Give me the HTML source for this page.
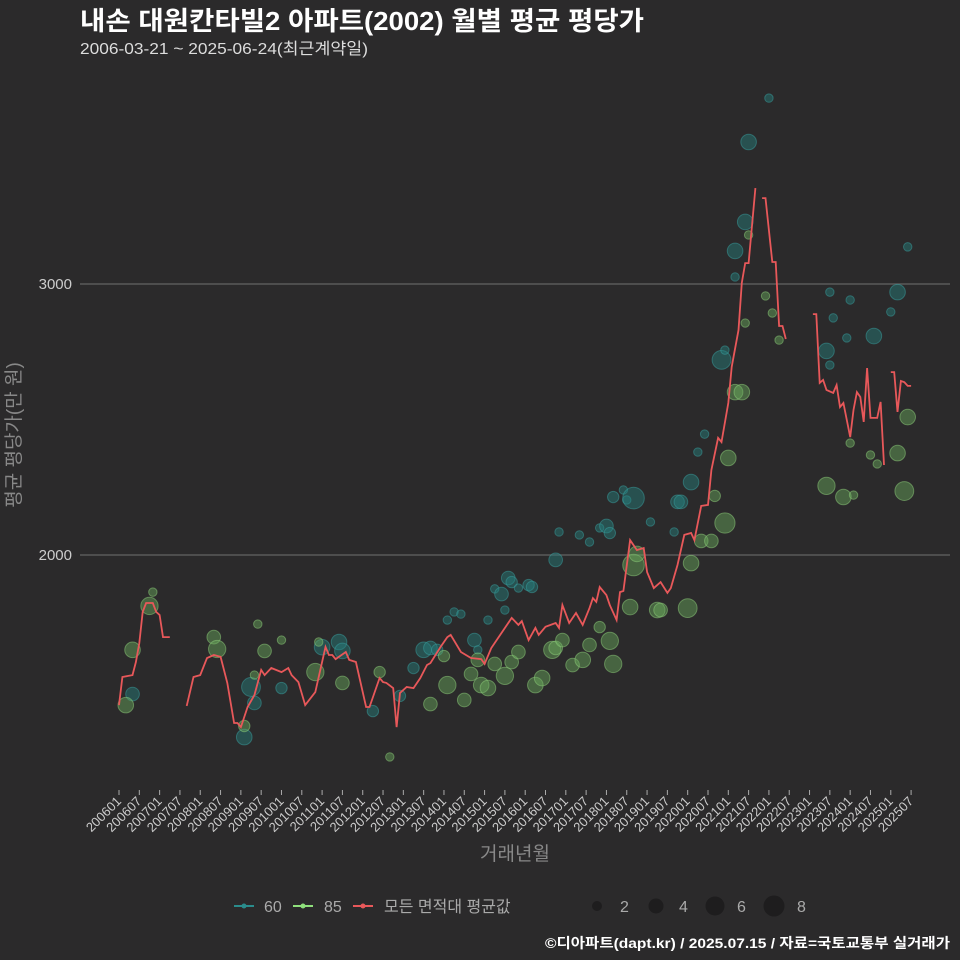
<!DOCTYPE html>
<html><head><meta charset="utf-8"><style>
body{margin:0;background:#2b2a2b;}
svg{display:block;font-family:"Liberation Sans","Noto Sans CJK KR",sans-serif;}
</style></head><body>
<svg id="chart" width="960" height="960" viewBox="0 0 960 960" xmlns="http://www.w3.org/2000/svg">
<rect width="960" height="960" fill="#2b2a2b"/>
<text x="80" y="30" fill="#ffffff" font-size="26" font-weight="bold" textLength="564" lengthAdjust="spacingAndGlyphs">내손 대원칸타빌2 아파트(2002) 월별 평균 평당가</text>
<text x="80" y="54" fill="#dddddd" font-size="16" textLength="288" lengthAdjust="spacingAndGlyphs">2006-03-21 ~ 2025-06-24(최근계약일)</text>
<g id="grid"></g>
<g id="yticks"></g>
<g id="xticks"></g>
<g id="bubbles60"></g>
<g id="bubbles85"></g>
<path id="avgline" fill="none" stroke="#e8585a" stroke-width="1.8"/>
<text x="20" y="435" fill="#888888" font-size="19" text-anchor="middle" transform="rotate(-90 20 435)">평균 평당가(만 원)</text>
<text x="515" y="860" fill="#888888" font-size="19" text-anchor="middle">거래년월</text>
<g font-size="16" fill="#aaaaaa">
<g><line x1="234" y1="906" x2="254" y2="906" stroke="#2a8c8c" stroke-width="2"/><circle cx="244" cy="906" r="2.5" fill="#2a8c8c"/><text x="264" y="912">60</text></g>
<g><line x1="293" y1="906" x2="313" y2="906" stroke="#8fe07c" stroke-width="2"/><circle cx="303" cy="906" r="2.5" fill="#8fe07c"/><text x="324" y="912">85</text></g>
<g><line x1="353" y1="906" x2="373" y2="906" stroke="#e8585a" stroke-width="2"/><circle cx="363" cy="906" r="2.5" fill="#e8585a"/><text x="384" y="912">모든 면적대 평균값</text></g>
<g><circle cx="597" cy="906" r="5" fill="#1e1d1e"/><text x="620" y="912">2</text></g>
<g><circle cx="656" cy="906" r="7.5" fill="#1e1d1e"/><text x="679" y="912">4</text></g>
<g><circle cx="715" cy="906" r="9.5" fill="#1e1d1e"/><text x="737" y="912">6</text></g>
<g><circle cx="774" cy="906" r="10.5" fill="#1e1d1e"/><text x="797" y="912">8</text></g>
</g>
<text x="950" y="948" fill="#ffffff" font-size="14" font-weight="bold" text-anchor="end" textLength="405" lengthAdjust="spacingAndGlyphs">©디아파트(dapt.kr) / 2025.07.15 / 자료=국토교통부 실거래가</text>
</svg>
<script>
// months since 2006-01; null = gap
const lineMonths = [0,1,4,5,6,7,8,10,11,12,13,15,null,20,22,24,26,28,30,32,34,35,36,38,40,42,43,45,48,50,51,53,55,58,61,62,63,64,67,68,70,73,74,77,78,79,81,82,83,85,87,89,91,92,95,97,98,101,104,107,108,110,116,118,119,121,123,124,126,129,130,131,133,135,137,139,140,141,142,144,145,147,148,149,151,153,155,156,158,160,162,163,165,167,169,170,172,174,175,177,178,180,181,183,184,185,186,188,null,190,191,193,194,195,196,197,null,205,206,207,208,209,211,212,213,214,216,217,218,219,220,221,222,224,225,226,null,228,229,230,231,232,233,234];
const lineValues = [1446,1550,1557,1605,1675,1790,1823,1823,1790,1779,1697,1697,null,1443,1550,1557,1620,1631,1624,1528,1380,1380,1365,1439,1483,1576,1557,1583,1568,1583,1557,1531,1446,1494,1661,1631,1631,1616,1642,1613,1605,1439,1439,1546,1531,1528,1509,1365,1491,1513,1509,1546,1594,1601,1661,1697,1705,1642,1620,1616,1598,1657,1768,1742,1756,1686,1731,1705,1735,1749,1731,1815,1749,1786,1742,1804,1841,1827,1882,1852,1815,1760,1863,1867,2055,2018,2026,1937,1878,1900,1860,1878,1963,2074,2081,2055,2181,2185,2314,2432,2417,2561,2694,2830,3004,3077,3077,3354,null,3317,3317,3081,3081,2845,2845,2797,null,2889,2889,2635,2646,2609,2598,2627,2546,2561,2435,2535,2601,2583,2491,2690,2506,2506,2565,2332,null,2675,2675,2528,2642,2638,2624,2624];
const months60 = [4,37,39,40,48,60,65,66,75,83,87,90,92,94,97,99,101,105,106,109,111,113,114,115,116,118,121,122,129,130,136,139,142,144,145,146,149,150,152,157,164,165,166,169,171,173,178,179,182,182,185,186,192,209,210,211,210,216,215,223,228,230,233];
const values60 = [1487,1328,1513,1454,1509,1660,1679,1646,1424,1480,1583,1650,1657,1650,1760,1790,1782,1686,1650,1760,1875,1856,1797,1915,1900,1878,1889,1882,1982,2085,2074,2048,2100,2107,2081,2214,2240,2203,2210,2122,2085,2196,2196,2269,2380,2446,2720,2756,3122,3026,3229,3524,3686,2753,2701,2875,2970,2941,2801,2808,2897,2970,3137];
const counts60 = [3,4,6,3,2,4,4,4,2,2,2,4,3,2,1,1,1,3,1,1,1,3,1,3,2,1,2,2,3,1,1,1,1,3,2,2,1,1,8,1,1,3,3,4,1,1,6,1,4,1,4,4,1,4,1,1,1,1,1,4,1,4,1];
const months85 = [2,4,9,10,28,29,40,37,43,48,41,58,59,66,77,80,92,97,102,96,104,106,107,109,111,114,116,118,123,125,128,129,131,134,137,139,142,145,146,151,152,153,159,160,168,169,172,175,176,179,180,182,184,185,186,191,193,195,209,214,217,222,224,230,232,233,216];
const values85 = [1446,1650,1812,1863,1697,1653,1557,1369,1646,1686,1745,1568,1679,1528,1568,1255,1450,1520,1465,1627,1561,1613,1520,1509,1598,1554,1605,1642,1520,1546,1650,1657,1686,1594,1613,1668,1734,1683,1598,1808,1963,2004,1797,1797,1804,1970,2052,2052,2218,2118,2358,2601,2601,2856,3181,2956,2893,2793,2255,2214,2221,2369,2336,2376,2236,2509,2413];
const counts85 = [4,4,5,1,3,5,1,2,3,1,1,5,1,3,2,1,3,5,3,2,3,3,4,4,3,5,3,3,4,4,5,3,3,3,4,3,2,5,5,4,8,4,4,3,6,4,3,3,2,7,4,4,4,1,1,1,1,1,5,4,1,1,1,4,6,4,1];
const yTicks = [2000,3000];
const xTickLabels = ["200601","200607","200701","200707","200801","200807","200901","200907","201001","201007","201101","201107","201201","201207","201301","201307","201401","201407","201501","201507","201601","201607","201701","201707","201801","201807","201901","201907","202001","202007","202101","202107","202201","202207","202301","202307","202401","202407","202501","202507"];

const NS="http://www.w3.org/2000/svg";
function xScale(m){return 119+m*3.385;}
function yScale(v){return 555-(v-2000)*0.271;}
function rScale(n){return 0.6+3.6*Math.sqrt(n);}
function mk(tag,attrs,parent){const e=document.createElementNS(NS,tag);for(const k in attrs)e.setAttribute(k,attrs[k]);parent.appendChild(e);return e;}

const grid=document.getElementById('grid'), yt=document.getElementById('yticks'), xt=document.getElementById('xticks');
yTicks.forEach(v=>{
  const l=mk('line',{x1:80,x2:950,y1:yScale(v),y2:yScale(v),stroke:'#5a5a5a','stroke-width':1.5},grid);
  
  
  const t=mk('text',{x:72,y:yScale(v)+5,fill:'#cccccc','font-size':15,'text-anchor':'end'},yt);
  t.textContent=v;
  
  
});
xTickLabels.forEach((lab,i)=>{
  const x=xScale(i*6);
  const tk=mk('line',{x1:x,x2:x,y1:790,y2:795,stroke:'#aaaaaa','stroke-width':1},xt);
  
  
  const t=mk('text',{x:x+3,y:802,fill:'#cccccc','font-size':13,'text-anchor':'end',transform:'rotate(-45 '+(x+3)+' 802)'},xt);
  t.textContent=lab;
  
  
});
function drawBubbles(id,ms,vs,cs,fill,stroke,name){
  const g=document.getElementById(id);
  ms.forEach((m,i)=>{
    const c=mk('circle',{cx:xScale(m),cy:yScale(vs[i]),r:rScale(cs[i]),fill:fill,'fill-opacity':0.45,stroke:stroke,'stroke-opacity':0.5,'stroke-width':1},g);
    
    
  });
}
drawBubbles('bubbles60',months60,values60,counts60,'#26807f','#3aa0a0','bubble-60');
drawBubbles('bubbles85',months85,values85,counts85,'#6aab5e','#8fd07c','bubble-85');
let d='',pen=false;
lineMonths.forEach((m,i)=>{
  if(m===null||lineValues[i]===null){pen=false;return;}
  d+=(pen?'L':'M')+xScale(m).toFixed(1)+','+yScale(lineValues[i]).toFixed(1);
  pen=true;
});
document.getElementById('avgline').setAttribute('d',d);
</script>
</body></html>
